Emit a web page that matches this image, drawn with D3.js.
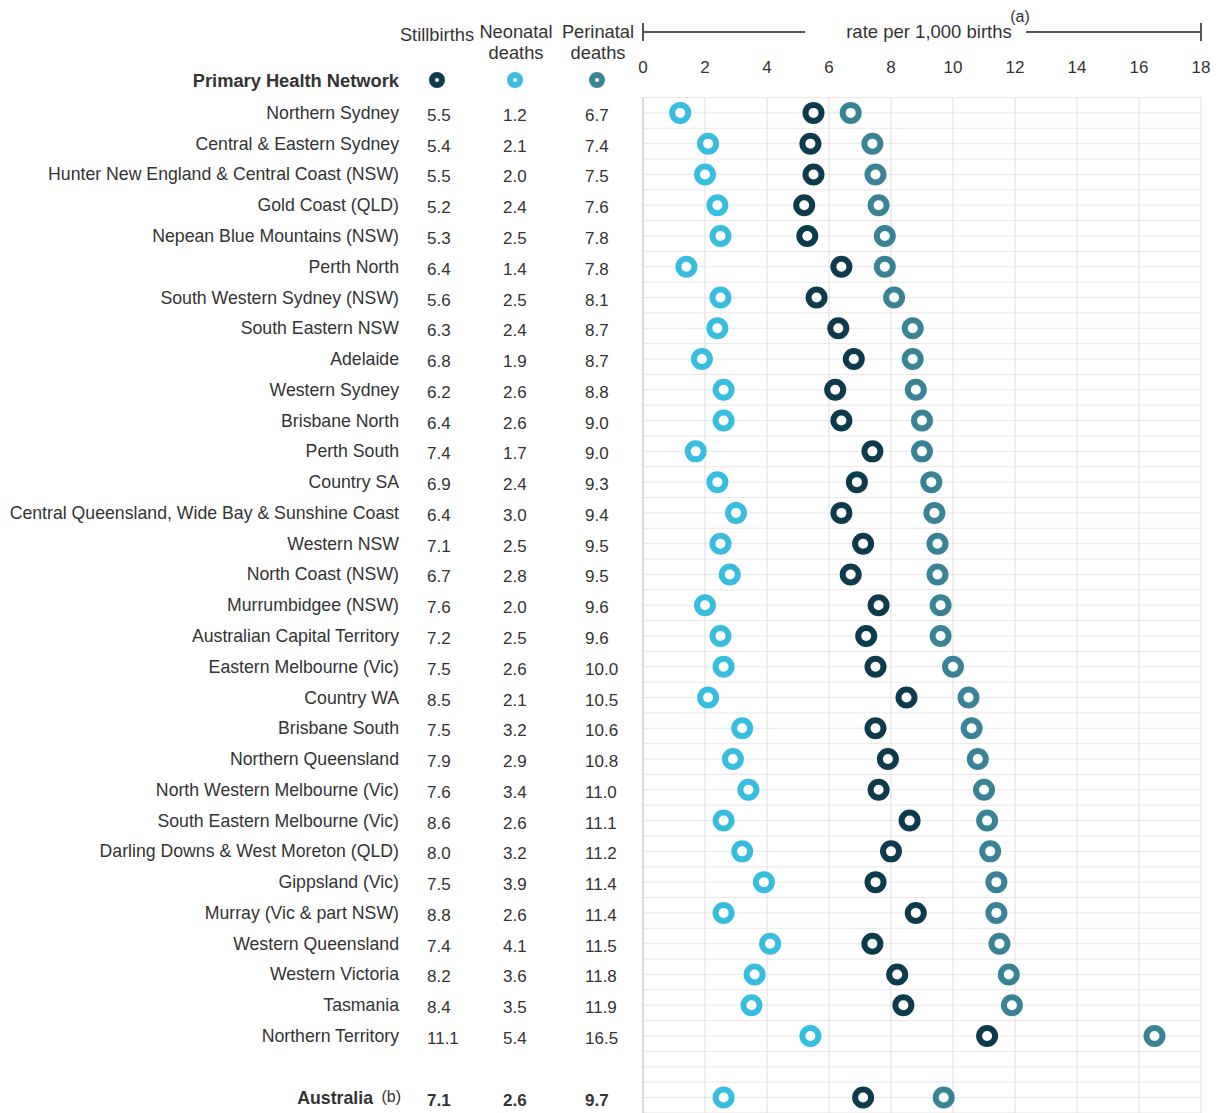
<!DOCTYPE html>
<html>
<head>
<meta charset="utf-8">
<script src="https://cdn.jsdelivr.net/npm/d3@7"></script>
<style>
  body { margin: 0; background: #fff; }
  svg { font-family: "Liberation Sans", Arial, sans-serif; }
</style>
</head>
<body>
<svg id="chart" width="1224" height="1113"></svg>
<script>
const networks = [
  'Northern Sydney', 'Central & Eastern Sydney', 'Hunter New England & Central Coast (NSW)',
  'Gold Coast (QLD)', 'Nepean Blue Mountains (NSW)', 'Perth North', 'South Western Sydney (NSW)',
  'South Eastern NSW', 'Adelaide', 'Western Sydney', 'Brisbane North', 'Perth South', 'Country SA',
  'Central Queensland, Wide Bay & Sunshine Coast', 'Western NSW', 'North Coast (NSW)',
  'Murrumbidgee (NSW)', 'Australian Capital Territory', 'Eastern Melbourne (Vic)', 'Country WA',
  'Brisbane South', 'Northern Queensland', 'North Western Melbourne (Vic)',
  'South Eastern Melbourne (Vic)', 'Darling Downs & West Moreton (QLD)', 'Gippsland (Vic)',
  'Murray (Vic & part NSW)', 'Western Queensland', 'Western Victoria', 'Tasmania', 'Northern Territory'
];
const stillbirths = [5.5, 5.4, 5.5, 5.2, 5.3, 6.4, 5.6, 6.3, 6.8, 6.2, 6.4, 7.4, 6.9, 6.4, 7.1, 6.7,
  7.6, 7.2, 7.5, 8.5, 7.5, 7.9, 7.6, 8.6, 8.0, 7.5, 8.8, 7.4, 8.2, 8.4, 11.1];
const neonatal = [1.2, 2.1, 2.0, 2.4, 2.5, 1.4, 2.5, 2.4, 1.9, 2.6, 2.6, 1.7, 2.4, 3.0, 2.5, 2.8,
  2.0, 2.5, 2.6, 2.1, 3.2, 2.9, 3.4, 2.6, 3.2, 3.9, 2.6, 4.1, 3.6, 3.5, 5.4];
const perinatal = [6.7, 7.4, 7.5, 7.6, 7.8, 7.8, 8.1, 8.7, 8.7, 8.8, 9.0, 9.0, 9.3, 9.4, 9.5, 9.5,
  9.6, 9.6, 10.0, 10.5, 10.6, 10.8, 11.0, 11.1, 11.2, 11.4, 11.4, 11.5, 11.8, 11.9, 16.5];
const australia = { stillbirths: 7.1, neonatal: 2.6, perinatal: 9.7 };
const xTicks = [0, 2, 4, 6, 8, 10, 12, 14, 16, 18];

const series = [
  { key: 'stillbirths', name: ['Stillbirths'], color: '#0b3b4d', col: 427, legendX: 437 },
  { key: 'neonatal', name: ['Neonatal', 'deaths'], color: '#37bde0', col: 503, legendX: 515 },
  { key: 'perinatal', name: ['Perinatal', 'deaths'], color: '#3a8397', col: 585, legendX: 597 }
];

const rows = networks.map((n, i) => ({
  name: n, stillbirths: stillbirths[i], neonatal: neonatal[i], perinatal: perinatal[i], total: false
}));
rows.push({ name: '', blank: true });
rows.push({ name: 'Australia', ...australia, total: true });

const svg = d3.select('#chart');
const textColor = '#333';
const labelRight = 399;

const x = d3.scaleLinear().domain([0, 18]).range([643, 1201]);
const y = d3.scaleBand().domain(d3.range(rows.length)).range([97.5, 97.5 + rows.length * 30.77]);

// grid
const grid = svg.append('g');
const halfLines = d3.range(rows.length * 2 + 1).map(k => y.range()[0] + k * y.bandwidth() / 2);
grid.selectAll('line.h').data(halfLines).enter().append('line')
  .attr('x1', x(0)).attr('x2', x(18))
  .attr('y1', d => d).attr('y2', d => d)
  .attr('stroke', '#e8e8e8').attr('stroke-width', 1);
grid.selectAll('line.v').data(xTicks).enter().append('line')
  .attr('x1', d => x(d)).attr('x2', d => x(d))
  .attr('y1', y.range()[0]).attr('y2', 1113)
  .attr('stroke', d => d === 0 ? '#cfcfcf' : '#dedede').attr('stroke-width', d => d === 0 ? 1.5 : 1);

// axis tick labels
svg.append('g').selectAll('text').data(xTicks).enter().append('text')
  .attr('x', d => x(d)).attr('y', 73)
  .attr('text-anchor', 'middle')
  .attr('font-size', 17).attr('fill', textColor)
  .text(d => d);

// axis header bracket
const bracket = svg.append('g').attr('stroke', '#555').attr('stroke-width', 2);
bracket.append('line').attr('x1', x(0)).attr('x2', 805).attr('y1', 32).attr('y2', 32);
bracket.append('line').attr('x1', 1026).attr('x2', x(18)).attr('y1', 32).attr('y2', 32);
bracket.append('line').attr('x1', x(0)).attr('x2', x(0)).attr('y1', 23).attr('y2', 41);
bracket.append('line').attr('x1', x(18)).attr('x2', x(18)).attr('y1', 23).attr('y2', 41);
svg.append('text').attr('x', 929).attr('y', 38).attr('text-anchor', 'middle')
  .attr('font-size', 18.5).attr('fill', textColor).text('rate per 1,000 births');
svg.append('text').attr('x', 1020).attr('y', 22).attr('text-anchor', 'middle')
  .attr('font-size', 16).attr('fill', textColor).text('(a)');

// column headers and legend
svg.append('text').attr('x', labelRight).attr('y', 87).attr('text-anchor', 'end')
  .attr('font-size', 18.3).attr('font-weight', 'bold').attr('fill', textColor)
  .text('Primary Health Network');

series.forEach(s => {
  const t = svg.append('text').attr('text-anchor', 'middle')
    .attr('font-size', 18.3).attr('fill', textColor);
  if (s.name.length === 1) {
    t.append('tspan').attr('x', s.legendX).attr('y', 41).text(s.name[0]);
  } else {
    t.append('tspan').attr('x', s.legendX + 1).attr('y', 38).text(s.name[0]);
    t.append('tspan').attr('x', s.legendX + 1).attr('y', 59).text(s.name[1]);
  }
  svg.append('circle').attr('cx', s.legendX).attr('cy', 80).attr('r', 5)
    .attr('fill', 'none').attr('stroke', s.color).attr('stroke-width', 6);
});

// row labels
const rowG = svg.append('g').selectAll('g').data(rows).enter().append('g')
  .attr('transform', (d, i) => `translate(0, ${y(i) + y.bandwidth() / 2})`);

const nonBlank = rowG.filter(d => !d.blank);

nonBlank.append('text')
  .attr('x', d => d.total ? labelRight - 26 : labelRight)
  .attr('y', 6)
  .attr('text-anchor', 'end')
  .attr('font-size', 17.7)
  .attr('font-weight', d => d.total ? 'bold' : 'normal')
  .attr('fill', textColor)
  .text(d => d.name);

nonBlank.filter(d => d.total).append('text')
  .attr('x', labelRight + 2).attr('y', 4).attr('text-anchor', 'end')
  .attr('font-size', 16).attr('fill', textColor).text('(b)');

series.forEach(s => {
  nonBlank.append('text')
    .attr('x', s.col).attr('y', 8)
    .attr('font-size', 17)
    .attr('font-weight', d => d.total ? 'bold' : 'normal')
    .attr('fill', textColor)
    .text(d => d3.format('.1f')(d[s.key]));
});

// ring markers
series.forEach(s => {
  nonBlank.append('circle')
    .attr('cx', d => x(d[s.key]))
    .attr('cy', 0)
    .attr('r', 8)
    .attr('fill', '#fff')
    .attr('stroke', s.color)
    .attr('stroke-width', 6);
});
</script>
</body>
</html>
